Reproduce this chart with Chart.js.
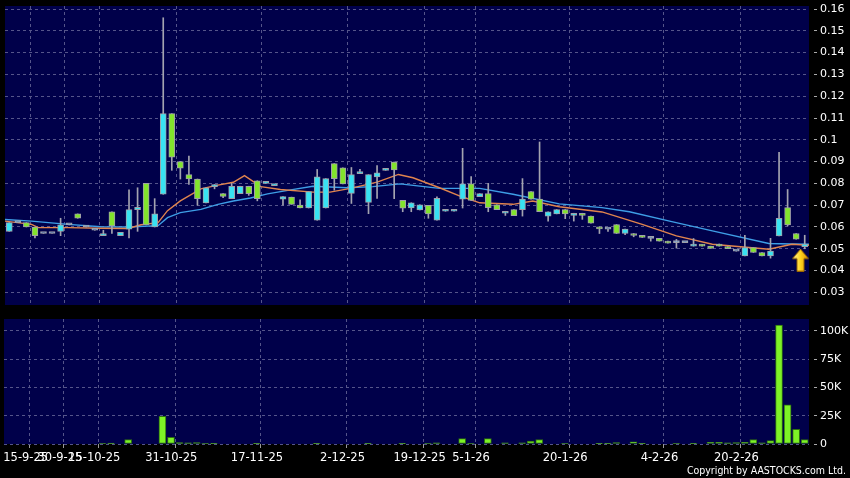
<!DOCTYPE html>
<html>
<head>
<meta charset="utf-8">
<script src="https://cdn.jsdelivr.net/npm/chart.js@4.4.0/dist/chart.umd.min.js"></script>
<style>
  body { margin: 0; background: #000; width: 850px; height: 478px; overflow: hidden; position: relative; font-family: "DejaVu Sans", sans-serif; }
  #priceChart { position: absolute; left: 0; top: 0; }
  #volChart { position: absolute; left: 0; top: 310px; }
  #copy { position: absolute; right: 4px; top: 464px; color: #fff; font-family: "DejaVu Sans Condensed", "DejaVu Sans", sans-serif; font-size: 10.5px; line-height: 13px; }
</style>
</head>
<body>
<canvas id="priceChart" width="850" height="310"></canvas>
<canvas id="volChart" width="850" height="168"></canvas>
<div id="copy">Copyright by AASTOCKS.com Ltd.</div>
<script>
// daily candles, one slot per trading day (index 0..93)
const opens = [
  0.058, 0.062, 0.062, 0.060, 0.057, 0.057, 0.058, 0.061, 0.066, 0.060,
  0.0585, 0.056, 0.067, 0.056, 0.059, 0.068, 0.080, 0.060, 0.075, 0.112,
  0.090, 0.084, 0.082, 0.071, 0.0785, 0.0753, 0.073, 0.0753, 0.0787, 0.0812,
  0.080, 0.079, 0.0728, 0.0737, 0.070, 0.0687, 0.0631, 0.0687, 0.0891, 0.0871,
  0.0754, 0.0845, 0.0713, 0.083, 0.086, 0.0898, 0.0722, 0.0687, 0.0678, 0.0699,
  0.0631, 0.0672, 0.0672, 0.0728, 0.0798, 0.0739, 0.0753, 0.0702, 0.0663, 0.068,
  0.068, 0.0763, 0.0728, 0.065, 0.066, 0.068, 0.0653, 0.0663, 0.065, 0.060,
  0.059, 0.0611, 0.057, 0.057, 0.0561, 0.0548, 0.0548, 0.0535, 0.0528, 0.0528,
  0.0512, 0.052, 0.0512, 0.0522, 0.051, 0.0489, 0.0467, 0.0505, 0.0483, 0.0467,
  0.0559, 0.0689, 0.057, 0.051
];
const closes = [
  0.062, 0.062, 0.060, 0.056, 0.057, 0.057, 0.061, 0.061, 0.064, 0.060,
  0.0585, 0.057, 0.0605, 0.0575, 0.068, 0.069, 0.061, 0.066, 0.112, 0.092,
  0.087, 0.082, 0.073, 0.078, 0.079, 0.074, 0.0787, 0.0787, 0.0753, 0.073,
  0.081, 0.0795, 0.074, 0.0704, 0.0687, 0.0762, 0.083, 0.0822, 0.0822, 0.0798,
  0.084, 0.085, 0.084, 0.0849, 0.0865, 0.0862, 0.0686, 0.0711, 0.0702, 0.066,
  0.0731, 0.0678, 0.0678, 0.0798, 0.0722, 0.0753, 0.0689, 0.068, 0.0672, 0.0652,
  0.0728, 0.0728, 0.067, 0.067, 0.068, 0.066, 0.0663, 0.0653, 0.0618, 0.0591,
  0.059, 0.057, 0.059, 0.0561, 0.0552, 0.0548, 0.0535, 0.0526, 0.0528, 0.0528,
  0.052, 0.0512, 0.0502, 0.0512, 0.0501, 0.0489, 0.0505, 0.0483, 0.0467, 0.0489,
  0.064, 0.0609, 0.0544, 0.0522
];
const highs = [
  0.062, 0.062, 0.062, 0.060, 0.057, 0.057, 0.064, 0.061, 0.066, 0.060,
  0.0585, 0.0585, 0.067, 0.0575, 0.077, 0.078, 0.080, 0.073, 0.156, 0.112,
  0.090, 0.0925, 0.082, 0.078, 0.0795, 0.0753, 0.080, 0.0787, 0.0787, 0.0812,
  0.081, 0.0795, 0.074, 0.0737, 0.0725, 0.0762, 0.0864, 0.0822, 0.0891, 0.0871,
  0.0873, 0.0864, 0.084, 0.0882, 0.0865, 0.0898, 0.0722, 0.0711, 0.0702, 0.0699,
  0.0738, 0.0678, 0.0678, 0.0961, 0.0831, 0.0753, 0.080, 0.0702, 0.0672, 0.068,
  0.0822, 0.0763, 0.099, 0.067, 0.068, 0.068, 0.0663, 0.0663, 0.065, 0.060,
  0.059, 0.0611, 0.059, 0.057, 0.0561, 0.0548, 0.0548, 0.0535, 0.0543, 0.0528,
  0.0547, 0.052, 0.0512, 0.0522, 0.051, 0.0489, 0.0562, 0.0505, 0.0483, 0.0548,
  0.0943, 0.0772, 0.057, 0.0562
];
const lows = [
  0.058, 0.062, 0.060, 0.055, 0.057, 0.057, 0.056, 0.061, 0.064, 0.060,
  0.0585, 0.056, 0.057, 0.056, 0.055, 0.058, 0.061, 0.060, 0.075, 0.086,
  0.082, 0.0795, 0.070, 0.071, 0.0775, 0.0735, 0.073, 0.0753, 0.0745, 0.072,
  0.080, 0.079, 0.070, 0.0704, 0.0687, 0.0687, 0.0631, 0.0687, 0.0769, 0.0798,
  0.0708, 0.0845, 0.0661, 0.0731, 0.086, 0.073, 0.067, 0.067, 0.0678, 0.064,
  0.0631, 0.0672, 0.0672, 0.0687, 0.0722, 0.0739, 0.067, 0.068, 0.0653, 0.0652,
  0.065, 0.0728, 0.067, 0.0627, 0.066, 0.0638, 0.0627, 0.0635, 0.0618, 0.057,
  0.058, 0.057, 0.0565, 0.0555, 0.0552, 0.0535, 0.0535, 0.0526, 0.0503, 0.0528,
  0.0512, 0.0512, 0.0502, 0.0512, 0.0501, 0.0489, 0.0467, 0.0483, 0.0467, 0.0457,
  0.0559, 0.0605, 0.0544, 0.050
];
// volume in thousands of shares
const volumes = [
  0, 0, 0, 0, 0, 0, 0, 0, 0, 0,
  0, 0.5, 0.8, 0, 4, 0, 0, 0, 24.5, 5.8,
  1.2, 1, 1.3, 0.4, 0.3, 0, 0, 0, 0, 0.6,
  0, 0, 0, 0, 0, 0, 0.3, 0, 0, 0,
  0, 0, 0.6, 0, 0, 0, 0.7, 0, 0, 0.4,
  1, 0, 0, 4.7, 0.5, 0, 4.7, 0, 1, 0,
  1, 2.5, 4, 0, 0, 0.5, 0, 0, 0, 0.3,
  0.3, 1.3, 0, 2, 0.7, 0, 0, 0, 0.5, 0,
  0.7, 0, 1.5, 1.5, 1, 1.3, 1.5, 4, 1, 3,
  105, 34.5, 13, 3.9
];
// moving averages, read at their bends (slot index, price)
const maShortX = [-0.5, 2.6, 3.4, 6.9, 10.7, 13.9, 15.4, 17.4, 18.5, 20.0, 22.4, 24.4, 26.2, 27.5, 29.4, 31.7, 35.5, 37.5, 39.9, 43.0, 45.5, 47.2, 50.3, 52.7, 55.0, 58.9, 61.2, 64.3, 69.3, 74.0, 78.0, 82.2, 88.8, 91.5, 93.5];
const maShortY = [0.0627, 0.0612, 0.0597, 0.0597, 0.0594, 0.0593, 0.0610, 0.0620, 0.0675, 0.0720, 0.0775, 0.0792, 0.0805, 0.0836, 0.0785, 0.0772, 0.0760, 0.0760, 0.0777, 0.0806, 0.0841, 0.0826, 0.0780, 0.0742, 0.0711, 0.0704, 0.0719, 0.0693, 0.0669, 0.0612, 0.0559, 0.0521, 0.0498, 0.0521, 0.0516];
const maLongX = [-0.5, 2.6, 6.9, 10.7, 13.9, 17.4, 18.5, 20.0, 22.4, 24.4, 26.2, 28.2, 30.2, 32.9, 35.5, 39.5, 42.5, 45.7, 50.3, 55.0, 58.9, 64.3, 69.3, 72.5, 77.2, 82.2, 88.8, 91.5, 93.5];
const maLongY = [0.0634, 0.0627, 0.0612, 0.0601, 0.0600, 0.0606, 0.0643, 0.0666, 0.0681, 0.0704, 0.0719, 0.0733, 0.0752, 0.0770, 0.0787, 0.0780, 0.0785, 0.0798, 0.0777, 0.0777, 0.0750, 0.0706, 0.0689, 0.0670, 0.0627, 0.0582, 0.0524, 0.0522, 0.0521];
// date labels and where they fall between slots
const dateLabels = ['15-9-25', '30-9-25', '15-10-25', '31-10-25', '17-11-25', '2-12-25', '19-12-25', '5-1-26', '20-1-26', '4-2-26', '20-2-26'];
const dateTickPos = [2.5, 6.5, 10.5, 19.5, 29.5, 39.5, 48.5, 54.5, 65.5, 76.5, 85.5];
const priceTicks = [0.03, 0.04, 0.05, 0.06, 0.07, 0.08, 0.09, 0.1, 0.11, 0.12, 0.13, 0.14, 0.15, 0.16];
const volTicks = [0, 25, 50, 75, 100];
// the yellow marker under the last day
const markerX = [92.5];
const markerY = [0.0448];

Chart.defaults.font.family = "DejaVu Sans";

const slots = opens.map((o, i) => i);
const gridColor = "#55558a";
const panelColor = "#00004a";

function bodyColor(i) {
    if (closes[i] > opens[i]) return "#38e2f2";
    if (closes[i] < opens[i]) return "#82e42c";
    return "#8cb4d8";
}

// navy fill behind each panel
const panelBg = {
    id: "panelBg",
    beforeDraw(chart) {
        const { ctx, chartArea: a } = chart;
        ctx.save();
        ctx.fillStyle = panelColor;
        ctx.fillRect(a.left, a.top, a.right - a.left, a.bottom - a.top);
        ctx.restore();
    }
};

// arrow picture used as point style
const arrowImg = document.createElement("canvas");
arrowImg.width = 17;
arrowImg.height = 23;
const g = arrowImg.getContext("2d");
g.beginPath();
g.moveTo(8.5, 0.5);
g.lineTo(16.5, 10);
g.lineTo(12, 10);
g.lineTo(12, 22.5);
g.lineTo(5, 22.5);
g.lineTo(5, 10);
g.lineTo(0.5, 10);
g.closePath();
const grad = g.createLinearGradient(0, 0, 17, 0);
grad.addColorStop(0, "#fff6a8");
grad.addColorStop(0.5, "#ffd21e");
grad.addColorStop(1, "#d98e00");
g.fillStyle = grad;
g.fill();
g.strokeStyle = "#9a6400";
g.lineWidth = 1;
g.stroke();

function dateAxis(showLabels) {
    return {
        type: "linear",
        min: -0.5,
        max: 93.5,
        offset: false,
        afterBuildTicks: (s) => { s.ticks = dateTickPos.map(v => ({ value: v })); },
        ticks: {
            display: showLabels,
            color: "#fff",
            font: { size: 11.5 },
            maxRotation: 0,
            autoSkip: false,
            labelOffset: -4,
            padding: 3,
            callback: (v, k) => dateLabels[k]
        },
        grid: { offset: false, color: gridColor, drawTicks: showLabels, tickColor: "#999", tickLength: 4, tickBorderDash: [] },
        border: { display: false, dash: [3, 3] },
        afterFit: (s) => {
            s.height = showLabels ? 34 : 0;
            s.paddingLeft = 0;
            s.paddingRight = 0;
        }
    };
}

function valueAxis(min, max, ticks, fmt) {
    return {
        position: "right",
        min: min,
        max: max,
        afterBuildTicks: (s) => { s.ticks = ticks.map(v => ({ value: v })); },
        ticks: { color: "#fff", font: { size: 11 }, padding: 3, callback: fmt },
        grid: { color: gridColor, tickColor: "#aaa", tickLength: 8, tickBorderDash: [0, 5, 3, 50] },
        border: { display: false, dash: [3, 3] },
        afterFit: (s) => {
            s.width = 41;
            s.paddingTop = 0;
            s.paddingBottom = 0;
        }
    };
}

new Chart(document.getElementById("priceChart"), {
    type: "bar",
    data: {
        datasets: [
            {
                type: "line",
                data: maLongX.map((x, k) => ({ x: x, y: maLongY[k] })),
                borderColor: "#3e9ee6",
                borderWidth: 1.4,
                pointRadius: 0,
                order: 4
            },
            {
                type: "line",
                data: maShortX.map((x, k) => ({ x: x, y: maShortY[k] })),
                borderColor: "#e0844e",
                borderWidth: 1.4,
                pointRadius: 0,
                order: 3
            },
            {
                data: slots.map(i => ({ x: i, y: [lows[i], highs[i]] })),
                backgroundColor: "#a4a4b0",
                barThickness: 1,
                grouped: false,
                order: 2
            },
            {
                data: slots.map(i => ({ x: i, y: [opens[i], closes[i]] })),
                backgroundColor: slots.map(bodyColor),
                borderColor: "#a0a0a8",
                borderWidth: 1,
                borderSkipped: false,
                barThickness: 6,
                minBarLength: 2,
                grouped: false,
                order: 1
            },
            {
                type: "scatter",
                data: markerX.map((x, k) => ({ x: x, y: markerY[k] })),
                pointStyle: arrowImg,
                order: 0
            }
        ]
    },
    options: {
        responsive: false,
        animation: false,
        layout: { padding: { left: 4, top: 6, bottom: 4, right: 0 } },
        plugins: { legend: { display: false }, tooltip: { enabled: false } },
        scales: {
            x: dateAxis(false),
            y: valueAxis(0.0242, 0.1614, priceTicks, v => String(v))
        }
    },
    plugins: [panelBg]
});

new Chart(document.getElementById("volChart"), {
    type: "bar",
    data: {
        datasets: [
            {
                data: slots.map(i => ({ x: i, y: volumes[i] || null })),
                backgroundColor: "#7ef226",
                borderColor: "#2e7010",
                borderWidth: 1,
                borderSkipped: false,
                barThickness: 7,
                grouped: false
            }
        ]
    },
    options: {
        responsive: false,
        animation: false,
        layout: { padding: { left: 4, top: 9, bottom: 0, right: 0 } },
        plugins: { legend: { display: false }, tooltip: { enabled: false } },
        scales: {
            x: dateAxis(true),
            y: valueAxis(0, 110.4, volTicks, v => (v === 0 ? "0" : v + "K"))
        }
    },
    plugins: [panelBg]
});
</script>
</body>
</html>
